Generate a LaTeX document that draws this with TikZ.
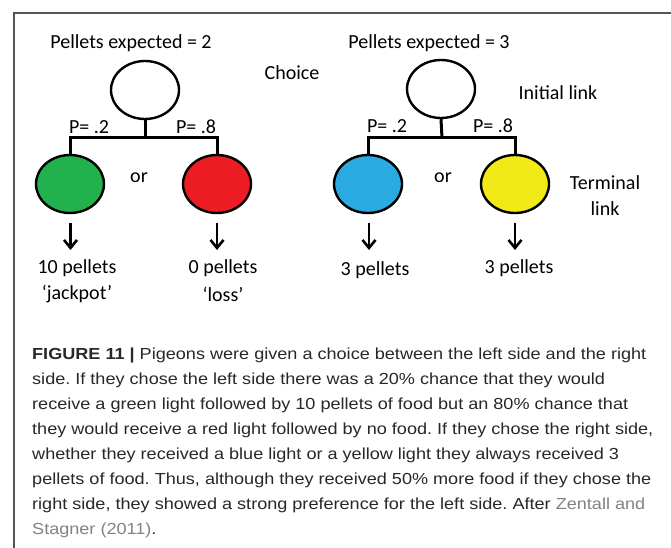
\documentclass[tikz,border=0pt]{standalone}
\usepackage{fontspec}
\setmainfont{Carlito}
\newfontfamily\capfont[FakeStretch=1.13]{Liberation Sans}
\usetikzlibrary{arrows.meta,shapes.geometric}
\definecolor{cgreen}{RGB}{34,177,76}
\definecolor{cred}{RGB}{237,28,36}
\definecolor{cblue}{RGB}{41,171,226}
\definecolor{cyellow}{RGB}{242,234,22}
\definecolor{capgray}{RGB}{40,40,40}
\definecolor{linkgray}{RGB}{130,130,130}
\definecolor{framegray}{RGB}{85,85,85}
\begin{document}
\frenchspacing
\begin{tikzpicture}[x=1pt,y=-1pt,
  lbl/.style={font=\fontsize{20}{22}\selectfont, inner sep=0pt},
  bubble/.style={ellipse, draw=black, line width=2.4pt, minimum width=68pt, minimum height=58pt, inner sep=0pt},
  branch/.style={line width=3pt},
  outarrow/.style={line width=2.6pt, -{Straight Barb[length=8pt,width=13pt,line width=2.6pt]}},
  capline/.style={anchor=base west, inner sep=0pt, font=\capfont\fontsize{16}{20}\selectfont, text=capgray}]
\useasboundingbox (0,0) rectangle (671,548);
\fill[white] (0,0) rectangle (671,548);
\draw[framegray, line width=1.5pt] (671,13) -- (14,13) -- (14,548);
% left tree
\node[lbl] (pe2) at (131,43) {Pellets expected = 2};
\node[lbl] (choice) at (292,73) {Choice};
\node[bubble, fill=white] (top1) at (145,90) {};
\node[bubble, fill=cgreen] (g) at (70,184) {};
\node[bubble, fill=cred] (r) at (217,184) {};
\coordinate (b1) at (145,138);
\draw[branch] (top1.south) -- (b1);
\draw[branch] (g.north) |- (b1) -| (r.north);
\node[lbl] (p12) at (89,127) {P= .2};
\node[lbl] (p18) at (196,127) {P= .8};
\node[lbl] (or1) at (139,178) {or};
\coordinate (a1s) at (70.5,223); \coordinate (a1e) at (70.5,250);
\coordinate (a2s) at (217,223); \coordinate (a2e) at (217,250);
\draw[outarrow] (a1s) -- (a1e);
\draw[outarrow] (a2s) -- (a2e);
\node[lbl] (ten) at (77,268) {10 pellets};
\node[lbl] (jack) at (77,294) {‘jackpot’};
\node[lbl] (zero) at (223,268) {0 pellets};
\node[lbl] (loss) at (223,294) {‘loss’};
% right tree
\node[lbl] (pe3) at (429,43) {Pellets expected = 3};
\node[lbl] (init) at (558,93) {Initial link};
\node[bubble, fill=white] (top2) at (441,89) {};
\node[bubble, fill=cblue] (bl) at (368,184) {};
\node[bubble, fill=cyellow] (ye) at (515,184) {};
\coordinate (b2) at (442,138);
\draw[branch] (top2.south) -- (b2);
\draw[branch] (bl.north) |- (b2) -| (ye.north);
\node[lbl] (p22) at (387,126) {P= .2};
\node[lbl] (p28) at (493,126) {P= .8};
\node[lbl] (or2) at (443,178) {or};
\node[lbl, align=center] (term) at (605,196) {Terminal\\[4pt]link};
\coordinate (a3s) at (369,223); \coordinate (a3e) at (369,250);
\coordinate (a4s) at (515,223); \coordinate (a4e) at (515,250);
\draw[outarrow] (a3s) -- (a3e);
\draw[outarrow] (a4s) -- (a4e);
\node[lbl] (three1) at (375,270) {3 pellets};
\node[lbl] (three2) at (519,268) {3 pellets};
% caption
\node[capline] (c1) at (32,359) {\textbf{FIGURE 11 |} Pigeons were given a choice between the left side and the right};
\node[capline] (c2) at (32,384) {side. If they chose the left side there was a 20\% chance that they would};
\node[capline] (c3) at (32,409) {receive a green light followed by 10 pellets of food but an 80\% chance that};
\node[capline] (c4) at (32,434) {they would receive a red light followed by no food. If they chose the right side,};
\node[capline] (c5) at (32,459) {whether they received a blue light or a yellow light they always received 3};
\node[capline] (c6) at (32,484) {pellets of food. Thus, although they received 50\% more food if they chose the};
\node[capline] (c7) at (32,509) {right side, they showed a strong preference for the left side. After \textcolor{linkgray}{Zentall and}};
\node[capline] (c8) at (32,534) {\textcolor{linkgray}{Stagner (2011)}.};
\end{tikzpicture}
\end{document}
